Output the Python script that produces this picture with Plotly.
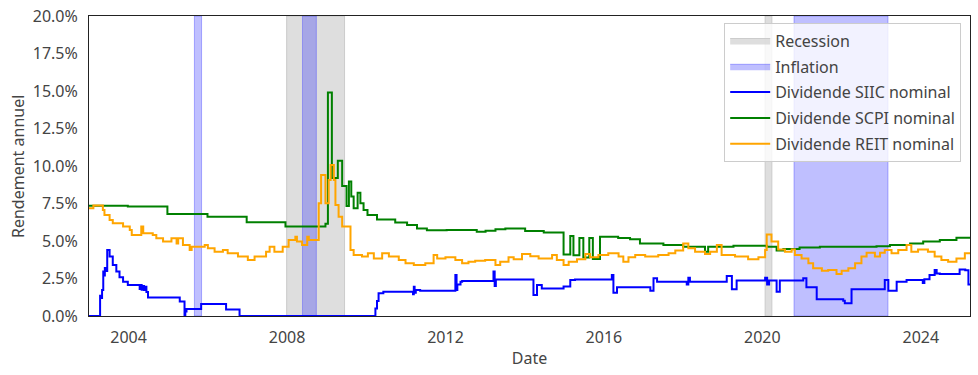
import plotly.graph_objects as go
from datetime import datetime, timedelta

# ---------------- data (dates as decimal years, values in %) ----------------
recession_start = [2007.99, 2020.07]
recession_end = [2009.45, 2020.24]
inflation_start = [2005.66, 2008.39, 2020.80]
inflation_end = [2005.84, 2008.74, 2023.17]

siic_t = [2003.00, 2003.28, 2003.31, 2003.33, 2003.36, 2003.37, 2003.40, 2003.42, 2003.46,
          2003.52, 2003.60, 2003.69, 2003.77, 2003.86, 2003.98,
          2004.28, 2004.30, 2004.33, 2004.36, 2004.39, 2004.42, 2004.45, 2004.49,
          2005.29, 2005.41, 2005.43, 2005.46, 2005.83, 2006.46, 2006.80,
          2010.23, 2010.27, 2010.31, 2010.43, 2011.18, 2011.20, 2011.22, 2011.25, 2011.36,
          2012.25, 2012.28, 2012.30, 2012.38, 2012.42, 2013.21, 2013.24, 2013.27,
          2014.22, 2014.31, 2014.43, 2014.98, 2015.15, 2015.27,
          2016.20, 2016.24, 2016.33, 2017.17, 2017.25, 2017.34,
          2018.09, 2018.13, 2018.17, 2019.10, 2019.23, 2019.35,
          2020.07, 2020.12, 2020.17, 2020.36, 2020.44,
          2021.03, 2021.11, 2021.37, 2022.04, 2022.08, 2022.25,
          2023.09, 2023.18, 2023.39, 2023.64, 2024.05, 2024.09, 2024.22, 2024.35, 2024.40, 2024.48,
          2024.98, 2025.12, 2025.20, 2025.25]
siic_v = [0.00, 1.35, 1.20, 1.73, 2.96, 2.70, 3.20, 3.00, 4.40,
          3.96, 3.40, 2.96, 2.58, 2.29, 2.07,
          1.80, 2.07, 1.75, 2.00, 1.73, 1.95, 1.60, 1.24,
          0.96, 0.00, 0.30, 0.47, 0.80, 0.44, 0.00,
          0.50, 1.00, 1.51, 1.62, 1.45, 1.95, 1.55, 1.73, 1.69,
          2.73, 1.73, 2.10, 2.29, 2.33, 2.96, 2.00, 2.44,
          1.40, 2.07, 1.84, 1.96, 2.40, 2.44,
          2.73, 1.55, 1.91, 1.69, 2.51, 2.29,
          2.10, 2.55, 2.29, 2.67, 1.78, 2.36,
          2.55, 2.10, 2.36, 1.62, 2.36,
          2.51, 1.91, 1.11, 1.02, 0.85, 1.78,
          2.40, 1.69, 2.29, 2.40, 2.20, 2.45, 2.73, 3.07, 2.84, 2.80,
          3.10, 3.05, 2.10, 2.10]

scpi_t = [2003.00, 2003.98, 2004.98, 2005.99, 2006.98, 2007.96, 2008.97, 2009.03, 2009.13,
          2009.28, 2009.39, 2009.50, 2009.56, 2009.62, 2009.68, 2009.78, 2009.85, 2009.93,
          2010.03, 2010.27, 2010.73, 2011.03, 2011.28, 2011.53, 2012.03, 2012.79, 2013.01,
          2013.26, 2013.51, 2014.01, 2014.48, 2014.98, 2015.15, 2015.23, 2015.38, 2015.48,
          2015.63, 2015.72, 2015.90, 2016.36, 2016.66, 2016.91, 2017.50, 2018.00, 2018.55,
          2018.63, 2019.27, 2020.11, 2020.36, 2020.53, 2020.94, 2021.45, 2022.88, 2023.22,
          2023.73, 2024.06, 2024.48, 2024.90, 2025.25]
scpi_v = [7.35, 7.30, 6.80, 6.62, 6.25, 5.97, 6.15, 14.90, 9.20,
          10.35, 8.67, 7.33, 8.96, 7.96, 7.18, 8.22, 7.51, 7.07,
          6.73, 6.44, 6.24, 6.07, 5.84, 5.71, 5.73, 5.62, 5.69,
          5.78, 5.84, 5.67, 5.56, 4.10, 5.33, 4.05, 5.20, 3.90,
          5.20, 3.80, 5.29, 5.20, 5.11, 4.84, 4.73, 4.62, 4.29,
          4.62, 4.69, 4.62, 4.36, 4.47, 4.56, 4.62, 4.65, 4.73,
          4.84, 4.96, 5.07, 5.22, 5.22]

reit_t = [2003.00, 2003.11, 2003.35, 2003.39, 2003.52, 2003.60, 2003.86, 2004.03, 2004.08,
          2004.32, 2004.37, 2004.61, 2004.70, 2004.87, 2005.08, 2005.21, 2005.25, 2005.37,
          2005.54, 2005.59, 2005.92, 2006.00, 2006.17, 2006.38, 2006.50, 2006.76, 2007.01,
          2007.18, 2007.47, 2007.56, 2007.68, 2007.89, 2008.04, 2008.21, 2008.25, 2008.38,
          2008.51, 2008.55, 2008.80, 2008.86, 2008.97, 2009.05, 2009.10, 2009.18, 2009.22,
          2009.30, 2009.39, 2009.60, 2009.68, 2009.89, 2010.04, 2010.19, 2010.40, 2010.57,
          2010.82, 2010.99, 2011.20, 2011.49, 2011.70, 2011.79, 2012.00, 2012.25, 2012.42,
          2012.58, 2012.75, 2013.00, 2013.26, 2013.38, 2013.59, 2013.72, 2013.93, 2014.14,
          2014.35, 2014.69, 2014.81, 2014.98, 2015.11, 2015.32, 2015.53, 2015.65, 2015.86,
          2016.11, 2016.37, 2016.49, 2016.62, 2016.79, 2017.04, 2017.37, 2017.63, 2017.80,
          2018.00, 2018.13, 2018.30, 2018.55, 2018.68, 2018.85, 2018.97, 2019.31, 2019.64,
          2019.90, 2020.07, 2020.11, 2020.23, 2020.40, 2020.57, 2020.74, 2020.82, 2020.99,
          2021.16, 2021.28, 2021.50, 2021.66, 2021.87, 2022.00, 2022.17, 2022.34, 2022.50,
          2022.63, 2022.84, 2022.97, 2023.09, 2023.26, 2023.43, 2023.64, 2023.76, 2023.93,
          2024.18, 2024.35, 2024.52, 2024.69, 2024.90, 2025.11, 2025.25]
reit_v = [7.18, 7.36, 7.07, 6.73, 6.40, 6.18, 5.96, 5.73, 5.40,
          5.96, 5.51, 5.40, 5.18, 4.96, 5.18, 4.84, 5.18, 4.73,
          4.40, 4.62, 4.73, 4.51, 4.29, 4.40, 4.18, 3.96, 3.73,
          3.96, 4.29, 4.62, 4.29, 4.62, 5.07, 5.29, 4.96, 4.73,
          5.29, 5.07, 7.51, 9.40, 7.51, 9.07, 10.07, 9.07, 7.40,
          6.62, 5.96, 4.40, 4.07, 3.96, 4.18, 3.84, 4.18, 3.96,
          3.73, 3.51, 3.40, 3.51, 4.07, 3.84, 3.91, 3.73, 3.51,
          3.62, 3.69, 3.73, 3.40, 3.62, 3.91, 3.78, 4.13, 3.98,
          3.84, 4.07, 3.73, 3.40, 3.62, 3.78, 4.13, 3.91, 4.07,
          4.18, 3.96, 3.62, 3.91, 4.07, 3.96, 4.07, 4.18, 4.36,
          4.84, 4.51, 4.29, 4.13, 4.29, 4.73, 4.07, 3.96, 3.78,
          3.91, 4.40, 5.44, 4.96, 4.44, 4.29, 4.44, 4.07, 3.84,
          3.51, 3.18, 3.02, 3.07, 2.80, 3.02, 3.18, 3.51, 3.96,
          4.22, 3.96, 4.22, 4.40, 4.18, 4.40, 4.73, 4.29, 4.44,
          4.29, 3.96, 3.73, 3.62, 3.84, 4.18, 4.18]

x_start, x_end = 2003.00, 2025.24
y_ticks = [0, 2.5, 5, 7.5, 10, 12.5, 15, 17.5, 20]
y_tick_labels = ["0.0%", "2.5%", "5.0%", "7.5%", "10.0%", "12.5%", "15.0%", "17.5%", "20.0%"]
y_title = "Rendement annuel"
x_title = "Date"


def to_dt(y):
    base = datetime(int(y), 1, 1)
    return base + timedelta(days=(y - int(y)) * 365.25)


def rects(starts, ends, top=20):
    xs, ys = [], []
    for s, e in zip(starts, ends):
        xs += [to_dt(s), to_dt(s), to_dt(e), to_dt(e), to_dt(s), None]
        ys += [0, top, top, 0, 0, None]
    return xs, ys


FONT = "Noto Sans"
TXT = "#444444"
fig = go.Figure()

rx, ry = rects(recession_start, recession_end)
fig.add_trace(go.Scatter(x=rx, y=ry, fill="toself", mode="lines", name="Recession",
                         legendgroup="g1",
                         fillcolor="rgba(211,211,211,0.75)",
                         line=dict(color="rgba(200,200,200,0.9)", width=1)))
ix, iy = rects(inflation_start, inflation_end)
fig.add_trace(go.Scatter(x=ix, y=iy, fill="toself", mode="lines", name="Inflation",
                         legendgroup="g2",
                         fillcolor="rgba(0,0,255,0.25)",
                         line=dict(color="rgba(80,80,255,0.45)", width=1)))

for i, (name, t, v, c) in enumerate([("Dividende SIIC nominal", siic_t, siic_v, "#0000ff"),
                                     ("Dividende SCPI nominal", scpi_t, scpi_v, "#008000"),
                                     ("Dividende REIT nominal", reit_t, reit_v, "#ffa500")]):
    fig.add_trace(go.Scatter(x=[to_dt(a) for a in t], y=v, mode="lines", name=name,
                             legendgroup=f"g{i + 3}",
                             line=dict(color=c, width=2, shape="hv")))

axis_common = dict(showline=True, linecolor="#222", linewidth=1, mirror=True,
                   ticks="outside", ticklen=7, tickcolor="rgba(0,0,0,0)", showgrid=False,
                   zeroline=False, automargin=False, ticklabeloverflow="allow",
                   tickfont=dict(family=FONT, size=16, color=TXT))

fig.update_layout(
    width=978, height=375,
    margin=dict(l=89, r=8, t=16, b=59),
    paper_bgcolor="white", plot_bgcolor="white",
    font=dict(family=FONT, color=TXT),
    xaxis=dict(type="date", range=[to_dt(x_start), to_dt(x_end)],
               tick0="2004-01-01", dtick="M48", tickformat="%Y",
               title=dict(text=x_title, font=dict(family=FONT, size=16, color=TXT), standoff=5),
               **axis_common),
    yaxis=dict(range=[0, 20], tickmode="array", tickvals=y_ticks, ticktext=y_tick_labels,
               **axis_common),
    legend=dict(x=0.99, y=0.978, xanchor="right", yanchor="top",
                bgcolor="rgba(255,255,255,0.8)", bordercolor="#cccccc", borderwidth=1,
                font=dict(family=FONT, size=16, color=TXT), itemwidth=40,
                tracegroupgap=2),
    showlegend=True,
)

# y-axis title as a rotated annotation to the left of the tick labels
fig.add_annotation(text=y_title, xref="paper", yref="paper", x=-0.0806, y=0.5,
                   xanchor="center", yanchor="middle", textangle=-90, showarrow=False,
                   font=dict(family=FONT, size=16, color=TXT))

# remove the default page margin so the figure fills the window exactly
fig.write_html("out.html", config={"displayModeBar": False},
               post_script="document.body.style.margin='0';")
